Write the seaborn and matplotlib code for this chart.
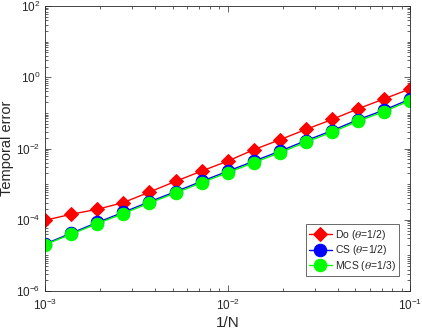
import matplotlib
matplotlib.use("Agg")
import matplotlib.pyplot as plt
import matplotlib.ticker as mticker
import numpy as np
import pandas as pd
import seaborn as sns

# time step 1/N
inv_n = [0.001, 0.00139, 0.00193, 0.00268, 0.00373, 0.00518, 0.0072, 0.01,
         0.0139, 0.0193, 0.0268, 0.0373, 0.0518, 0.072, 0.1]

err_do = [9.7e-5, 1.43e-4, 1.97e-4, 3.03e-4, 6.0e-4, 1.2e-3, 2.33e-3, 4.44e-3,
          9.25e-3, 1.76e-2, 3.42e-2, 6.53e-2, 0.130, 0.248, 0.473]
err_cs = [2.1e-5, 4.2e-5, 8.4e-5, 1.62e-4, 3.2e-4, 6.15e-4, 1.2e-3, 2.3e-3,
          4.4e-3, 8.4e-3, 1.66e-2, 3.17e-2, 6.45e-2, 0.12, 0.244]
err_mcs = [2.02e-5, 3.93e-5, 7.83e-5, 1.49e-4, 2.96e-4, 5.64e-4, 1.10e-3, 2.10e-3,
           4.0e-3, 7.62e-3, 1.51e-2, 2.88e-2, 5.86e-2, 0.109, 0.222]

labels = [r"Do ($\theta$=1/2)", r"CS ($\theta$=1/2)", r"MCS ($\theta$=1/3)"]
colors = ["#ff0000", "#0000ff", "#00ff00"]
markers = ["D", "o", "o"]
msizes = [7.0, 9.0, 9.0]

sns.set_style("ticks")
plt.rcParams["font.family"] = ["Liberation Sans", "DejaVu Sans"]
plt.rcParams["mathtext.fontset"] = "dejavuserif"

df = pd.DataFrame({"x": inv_n * 3,
                   "err": err_do + err_cs + err_mcs,
                   "scheme": [labels[0]] * 15 + [labels[1]] * 15 + [labels[2]] * 15})

fig = plt.figure(figsize=(4.22, 3.33), dpi=100)
ax = fig.add_axes([0.107, 0.126, 0.865, 0.856])

for lab, c, m, ms in zip(labels, colors, markers, msizes):
    sub = df[df["scheme"] == lab]
    sns.lineplot(data=sub, x="x", y="err", ax=ax, color=c, marker=m,
                 markersize=ms, markeredgecolor=c, linewidth=1.0, label=lab)

ax.set_xscale("log")
ax.set_yscale("log")
ax.set_xlim(1e-3, 1e-1)
ax.set_ylim(1e-6, 1e2)

ax.yaxis.set_major_locator(mticker.FixedLocator([1e-6, 1e-4, 1e-2, 1e0, 1e2]))
ax.yaxis.set_minor_locator(mticker.LogLocator(base=10, subs=np.arange(1, 10), numticks=30))
ax.xaxis.set_major_locator(mticker.FixedLocator([1e-3, 1e-2, 1e-1]))
ax.xaxis.set_minor_locator(mticker.LogLocator(base=10, subs=np.arange(2, 10), numticks=30))
ax.yaxis.set_major_formatter(mticker.LogFormatterSciNotation())
ax.xaxis.set_major_formatter(mticker.LogFormatterSciNotation())
ax.yaxis.set_minor_formatter(mticker.NullFormatter())
ax.xaxis.set_minor_formatter(mticker.NullFormatter())

for s in ax.spines.values():
    s.set_color("#262626")
    s.set_linewidth(0.6)
ax.tick_params(which="both", direction="in", top=True, right=True,
               colors="#262626", labelsize=8.5, width=0.5)
ax.tick_params(which="major", length=4)
ax.tick_params(which="minor", length=2)
ax.tick_params(axis="x", pad=5)

ax.set_xlabel("1/N", fontsize=11, labelpad=2)
ax.set_ylabel("Temporal error", fontsize=10.5)
ax.yaxis.set_label_coords(-0.086, 0.5)

leg = ax.legend(loc="lower right", fontsize=7.5, frameon=True, fancybox=False,
                handlelength=2.2, handletextpad=0.3, borderpad=0.3,
                labelspacing=0.15, bbox_to_anchor=(0.983, 0.035))
leg.get_frame().set_edgecolor("#262626")
leg.get_frame().set_linewidth(0.6)

fig.savefig("out.png", dpi=100)
